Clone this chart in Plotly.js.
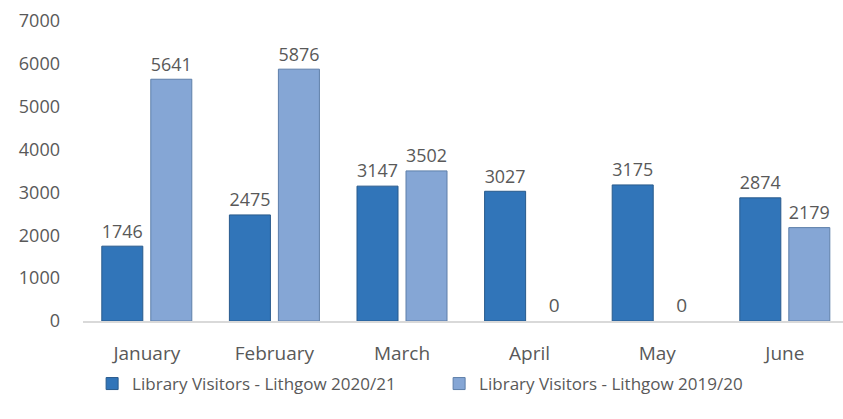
<!DOCTYPE html>
<html><head><meta charset="utf-8">
<script src="https://cdn.plot.ly/plotly-3.0.1.min.js"></script>
<style>body{margin:0;background:#fff}#c{width:843px;height:419px}</style>
</head><body><div id="c"></div>
<script>
const months = ["January","February","March","April","May","June"];
const visitors2021 = [1746,2475,3147,3027,3175,2874];
const visitors1920 = [5641,5876,3502,0,0,2179];
const seriesNames = ["Library Visitors - Lithgow 2020/21","Library Visitors - Lithgow 2019/20"];

const font = {family:"Open Sans, Noto Sans, sans-serif", size:18, color:"#595959"};
const lineW = v => v.map(d => d > 0 ? 1 : 0);
const data = [
  {type:"bar", x:months, y:visitors2021, name:seriesNames[0],
   marker:{color:"#3175B9", line:{color:"#285A8C", width:lineW(visitors2021)}},
   text:visitors2021.map(String), textposition:"outside", cliponaxis:false,
   textfont:{...font, size:19}},
  {type:"bar", x:months, y:visitors1920, name:seriesNames[1],
   marker:{color:"#85A6D5", line:{color:"#5E7FA9", width:lineW(visitors1920)}},
   text:visitors1920.map(String), textposition:"outside", cliponaxis:false,
   textfont:{...font, size:19}}
];
const layout = {
  width:843, height:419,
  margin:{l:83, r:0, t:21, b:98, autoexpand:false},
  paper_bgcolor:"#fff", plot_bgcolor:"#fff",
  font:font,
  barmode:"group", bargap:0.232, bargroupgap:0.163,
  xaxis:{range:[-0.5, 5.456], showgrid:false, zeroline:false, showline:true, linecolor:"#D9D9D9", linewidth:2,
         ticks:"", tickfont:{...font, size:19}, ticklabelstandoff:14},
  yaxis:{range:[0,7000], dtick:1000, showgrid:false, zeroline:false, showline:false,
         ticks:"", tickfont:{...font, size:18}, ticklabelstandoff:22},
  legend:{orientation:"h", x:0.012, xanchor:"left", y:-0.15, yanchor:"top",
          bgcolor:"rgba(0,0,0,0)",
          font:{...font, size:17}, itemwidth:30, traceorder:"normal",
          entrywidth:302, entrywidthmode:"pixels"},
  showlegend:true
};
Plotly.newPlot("c", data, layout, {displayModeBar:false, staticPlot:true});
</script></body></html>
